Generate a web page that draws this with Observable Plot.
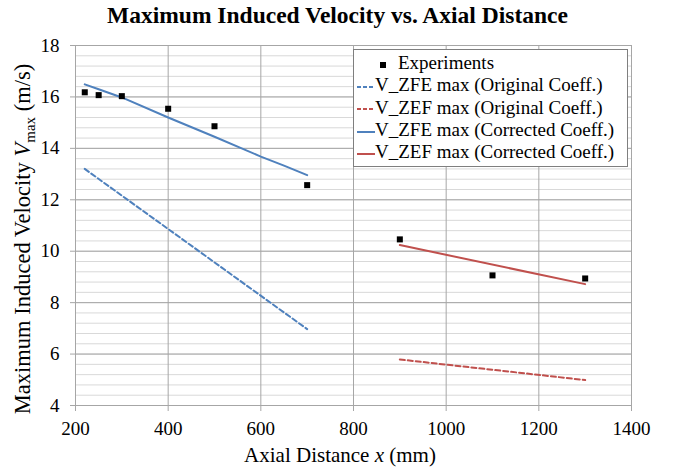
<!DOCTYPE html>
<html><head><meta charset="utf-8">
<script src="https://cdn.jsdelivr.net/npm/d3@7"></script>
<script src="https://cdn.jsdelivr.net/npm/@observablehq/plot@0.6"></script>
<style>
body{margin:0;background:#fff;}
#wrap{position:relative;width:675px;height:472px;font-family:"Liberation Serif","Times New Roman",serif;}
#title{height:34px;line-height:31px;text-align:center;font-weight:bold;font-size:23.5px;color:#000;}
#legend{position:absolute;left:353px;top:49px;width:273px;height:116px;border:1.5px solid #7f7f7f;background:#fff;font-size:19px;color:#000;}
.row{position:absolute;left:0;height:22px;line-height:22px;white-space:nowrap;}
.row svg{vertical-align:middle;}
#chart svg text{font-family:"Liberation Serif","Times New Roman",serif !important;}
</style></head>
<body>
<div id="wrap"><div id="title">Maximum Induced Velocity vs. Axial Distance</div><div id="chart"></div><div id="legend"></div></div>
<script>
const expX = [220, 250, 300, 400, 500, 700, 900, 1100, 1300];
const expY = [16.18, 16.07, 16.03, 15.54, 14.86, 12.57, 10.46, 9.06, 8.94];
const zfeOrigX = [220, 700];
const zfeOrigY = [13.2, 6.97];
const zefOrigX = [900, 1300];
const zefOrigY = [5.79, 4.99];
const zfeCorrX = [220, 250, 300, 400, 500, 600, 650, 700];
const zfeCorrY = [16.49, 16.3, 15.98, 15.2, 14.45, 13.68, 13.33, 12.96];
const zefCorrX = [900, 1300];
const zefCorrY = [10.24, 8.72];
const xTicks = [200, 400, 600, 800, 1000, 1200, 1400];
const yTicks = [4, 6, 8, 10, 12, 14, 16, 18];

const blue = "#4f81bd", red = "#c0504d";
const serif = "Liberation Serif, Times New Roman, serif";
const zip = (xs, ys) => xs.map((x, i) => ({x, y: ys[i]}));
const exp = zip(expX, expY);
const minor = d3.range(4, 18.001, 0.4).map(v => +v.toFixed(1));

const chart = Plot.plot({
  width: 675, height: 438,
  marginTop: 11, marginBottom: 67, marginLeft: 75, marginRight: 44,
  style: {fontFamily: serif, fontSize: "19px", color: "#000", background: "#fff"},
  x: {domain: [200, 1400], ticks: xTicks, label: null},
  y: {domain: [4, 18], ticks: yTicks, label: null},
  marks: [
    Plot.ruleY(minor, {stroke: "#d9d9d9", strokeWidth: 1}),
    Plot.ruleY(yTicks, {stroke: "#a6a6a6", strokeWidth: 1}),
    Plot.ruleX(xTicks, {stroke: "#a6a6a6", strokeWidth: 1}),
    Plot.axisX({ticks: xTicks, tickFormat: d3.format("d"), tickSize: 6, tickPadding: 10, stroke: "#a6a6a6", label: null, fill: "#000", fontSize: 19}),
    Plot.axisY({ticks: yTicks, tickFormat: d3.format("d"), tickSize: 5, tickPadding: 11, stroke: "#a6a6a6", label: null, fill: "#000", fontSize: 19}),
    Plot.line(zip(zfeOrigX, zfeOrigY), {x: "x", y: "y", stroke: blue, strokeWidth: 2, strokeDasharray: "5,3"}),
    Plot.line(zip(zefOrigX, zefOrigY), {x: "x", y: "y", stroke: red, strokeWidth: 2, strokeDasharray: "5,3"}),
    Plot.line(zip(zfeCorrX, zfeCorrY), {x: "x", y: "y", stroke: blue, strokeWidth: 2}),
    Plot.line(zip(zefCorrX, zefCorrY), {x: "x", y: "y", stroke: red, strokeWidth: 2}),
    Plot.dot(exp, {x: "x", y: "y", symbol: "square", r: 3.4, fill: "#000", stroke: "none"})
  ]
});
document.getElementById("chart").appendChild(chart);

const svg = d3.select(chart);
const yl = svg.append("text")
  .attr("transform", "translate(30,205) rotate(-90)")
  .attr("text-anchor", "middle")
  .attr("font-size", 22.5)
  .attr("fill", "#000");
yl.append("tspan").text("Maximum Induced Velocity ");
yl.append("tspan").attr("font-style", "italic").text("V");
yl.append("tspan").attr("font-size", 15).attr("dy", 5).text("max");
yl.append("tspan").attr("dy", -5).text(" (m/s)");

const xl = svg.append("text")
  .attr("x", 340).attr("y", 428)
  .attr("text-anchor", "middle")
  .attr("font-size", 21)
  .attr("fill", "#000");
xl.append("tspan").text("Axial Distance ");
xl.append("tspan").attr("font-style", "italic").text("x");
xl.append("tspan").text(" (mm)");

const legendItems = [
  {label: "Experiments", type: "square"},
  {label: "V_ZFE max (Original Coeff.)", type: "dash", color: blue},
  {label: "V_ZEF max (Original Coeff.)", type: "dash", color: red},
  {label: "V_ZFE max (Corrected Coeff.)", type: "solid", color: blue},
  {label: "V_ZEF max (Corrected Coeff.)", type: "solid", color: red}
];
const leg = document.getElementById("legend");
legendItems.forEach((d, i) => {
  const row = document.createElement("div");
  row.className = "row";
  row.style.top = (2 + i * 22.3) + "px";
  let sw;
  if (d.type === "square") {
    sw = `<svg width="44" height="10"><rect x="26" y="2" width="6" height="6" fill="#000"/></svg>`;
  } else {
    const dash = d.type === "dash" ? 'stroke-dasharray="4,2"' : "";
    sw = `<svg width="21" height="10"><line x1="3" x2="21" y1="5" y2="5" stroke="${d.color}" stroke-width="2" ${dash}/></svg>`;
  }
  row.innerHTML = sw + `<span>${d.label}</span>`;
  leg.appendChild(row);
});
</script>
</body></html>
